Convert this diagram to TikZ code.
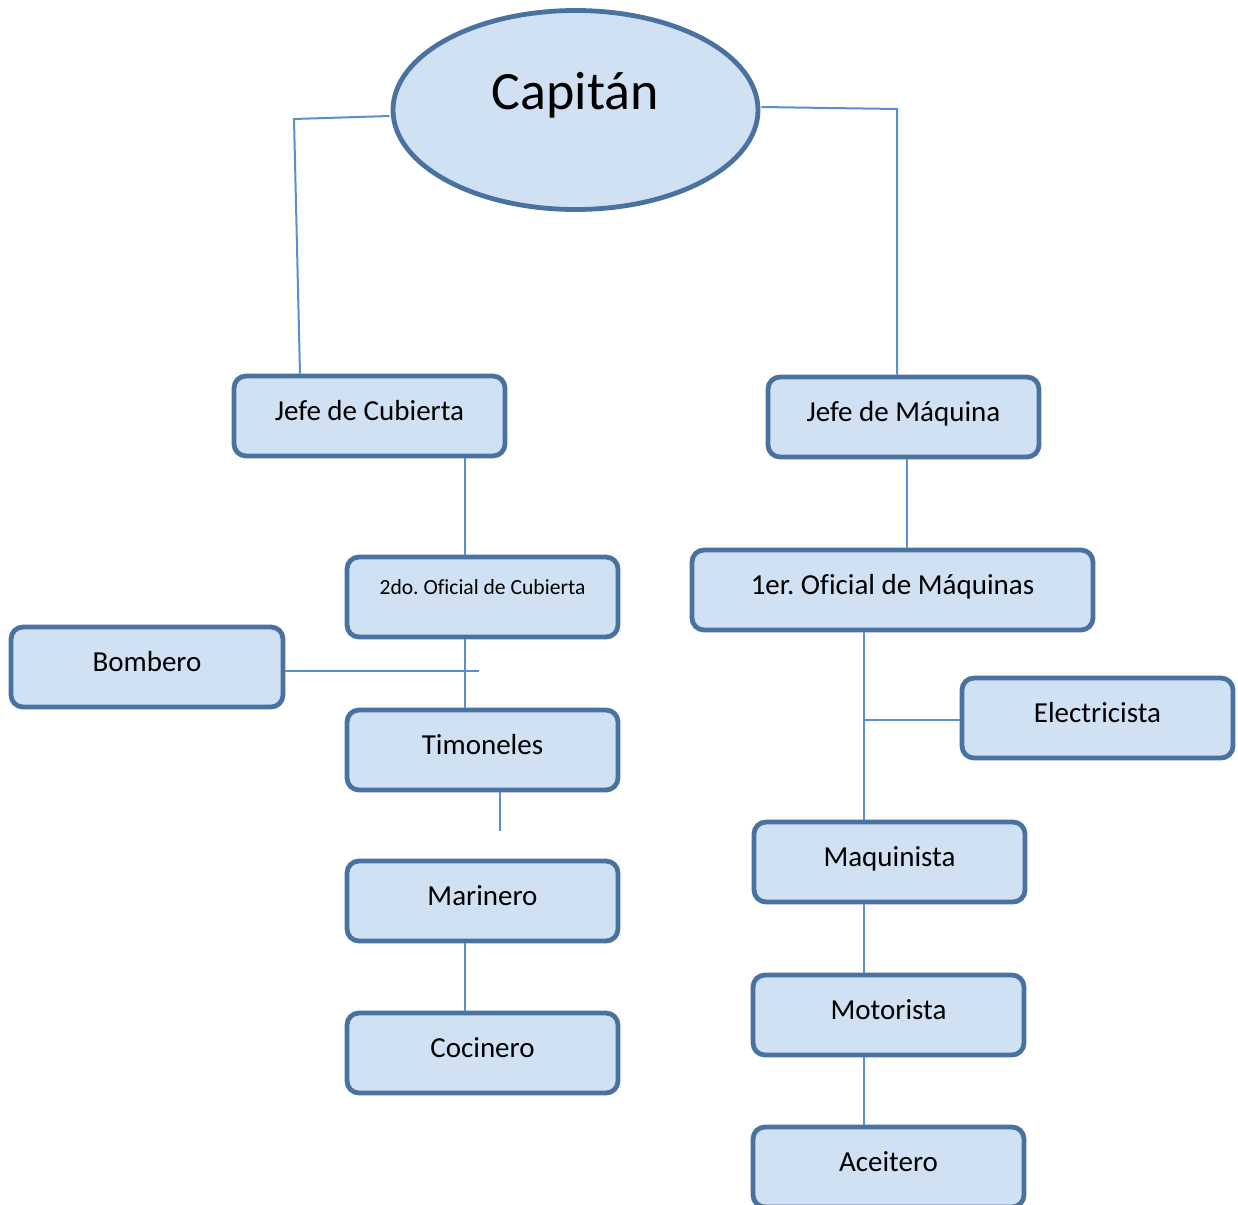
\documentclass[tikz,border=0pt]{standalone}
\usepackage{fontspec}
\setmainfont{Carlito}[Ligatures={TeX,NoCommon}]
\usetikzlibrary{calc,shapes.geometric}
\definecolor{bordc}{HTML}{4A72A0}
\definecolor{fillc}{HTML}{D0E1F3}
\definecolor{connc}{HTML}{5B8ECF}
\frenchspacing
\tikzset{
  box/.style={draw=bordc, fill=fillc, line width=2.4pt, rounded corners=6pt,
    minimum width=135.5pt, minimum height=40pt, inner sep=0pt,
    font=\fontsize{14.5}{17}\selectfont, text height=9pt, text depth=5pt},
  smallbox/.style={box, font=\fontsize{10.8}{13}\selectfont, text height=4pt, text depth=7pt},
  capbox/.style={draw=bordc, fill=fillc, line width=2.4pt, ellipse, inner sep=0pt,
    minimum width=182.5pt, minimum height=99.5pt,
    font=\fontsize{27}{32}\selectfont, text height=12pt, text depth=13pt},
  conn/.style={draw=connc, line width=1pt}
}
\begin{document}
\begin{tikzpicture}[x=0.5pt,y=-0.5pt]
\useasboundingbox (0,0) rectangle (1238,1205);
\node[capbox] (cap) at (575.5,110) {Capitán};
\node[box] (jc) at (369.5,416) {Jefe de Cubierta};
\node[box] (jm) at (903.5,417) {Jefe de Máquina};
\node[smallbox] (of2) at (482.5,597) {2do. Oficial de Cubierta};
\node[box, minimum width=200.5pt] (of1) at (892.5,590) {1er. Oficial de Máquinas};
\node[box, minimum width=136pt] (bom) at (147,667) {Bombero};
\node[box] (tim) at (482.5,750) {Timoneles};
\node[box] (ele) at (1097.5,718) {Electricista};
\node[box] (mar) at (482.5,901) {Marinero};
\node[box] (maq) at (889.5,862) {Maquinista};
\node[box] (coc) at (482.5,1053) {Cocinero};
\node[box] (mot) at (888.5,1015) {Motorista};
\node[box] (ace) at (888.5,1167) {Aceitero};
% helper coordinates
\coordinate (xl) at (465,0);
\coordinate (xr) at (864,0);
\coordinate (xjm) at (907,0);
\coordinate (lb) at (294,119);
\coordinate (lbb) at (300,0);
\coordinate (rb) at (897,109);
\coordinate (bomEnd) at (479,671);
\coordinate (stub) at (500,831);
% connectors
\draw[conn] ($(cap.west)+(-1,6)$) -- (lb) -- (jc.north -| lbb);
\draw[conn] ($(cap.east)+(1,-3)$) -- (rb) -- (jm.north -| rb);
\draw[conn] (jc.south -| xl) -- (of2.north -| xl);
\draw[conn] (of2.south -| xl) -- (tim.north -| xl);
\draw[conn] (bom.east |- bomEnd) -- (bomEnd);
\draw[conn] (tim.south -| stub) -- (stub);
\draw[conn] (mar.south -| xl) -- (coc.north -| xl);
\draw[conn] (jm.south -| xjm) -- (of1.north -| xjm);
\draw[conn] (of1.south -| xr) -- (maq.north -| xr);
\draw[conn] ($(ele.west)+(0,2)$) -- ($(ele.west -| xr)+(0,2)$);
\draw[conn] (maq.south -| xr) -- (mot.north -| xr);
\draw[conn] (mot.south -| xr) -- (ace.north -| xr);
\end{tikzpicture}
\end{document}
